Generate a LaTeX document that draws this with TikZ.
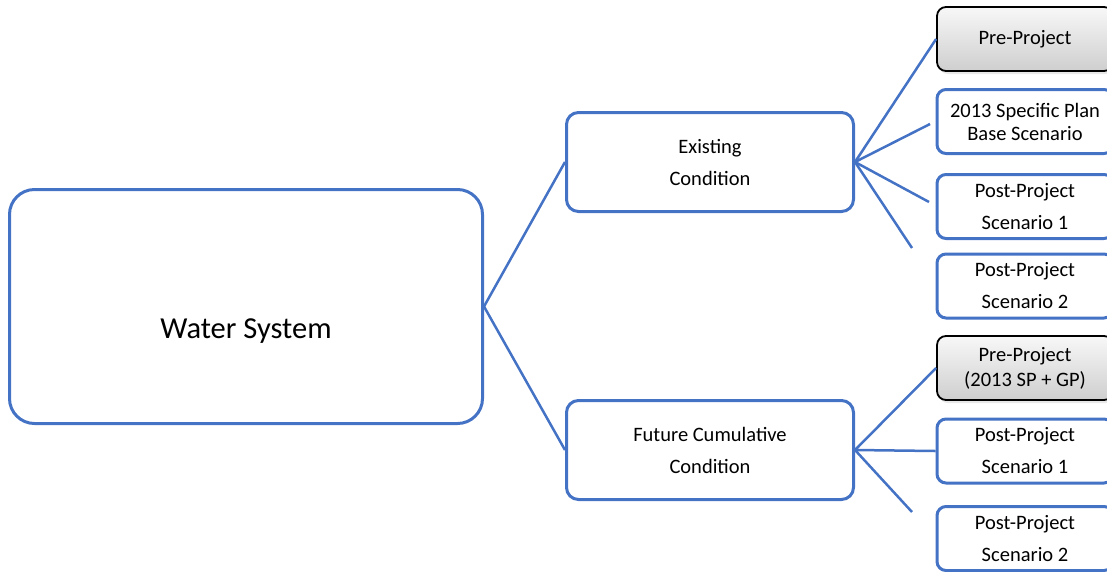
\documentclass[tikz,border=0pt]{standalone}
\usepackage{fontspec}
\setmainfont{Carlito}
\usetikzlibrary{shadows}
\definecolor{wblue}{HTML}{4472C4}
\tikzset{
  rootbox/.style={draw=wblue, line width=3pt, rounded corners=25pt,
    minimum width=473pt, minimum height=234pt},
  midbox/.style={draw=wblue, line width=3pt, rounded corners=12pt,
    minimum width=287pt, minimum height=99pt, align=center,
    font=\fontsize{20.5}{23}\selectfont},
  leafbox/.style={draw=wblue, line width=3pt, rounded corners=9pt,
    minimum width=176pt, minimum height=64pt, align=center,
    font=\fontsize{20.5}{23}\selectfont},
  prebox/.style={leafbox, draw=black, line width=1.8pt,
    top color=gray!6, bottom color=gray!38,
    drop shadow={shadow xshift=2pt, shadow yshift=-3pt, fill=black!18}},
  link/.style={draw=wblue, line width=2.5pt}
}
\begin{document}
\begin{tikzpicture}[x=1pt,y=-1pt]
  \useasboundingbox (0,0) rectangle (1107,571);
  \clip (0,0) rectangle (1107,571);
  % root and the two conditions
  \node[rootbox] (water) at (246,306.5) {};
  \node[font=\fontsize{30.5}{34}\selectfont] (watertxt) at (246,331) {Water System};
  \node[midbox] (exist) at (710,162) {Existing\\[9pt]Condition};
  \node[midbox] (future) at (710,450) {Future Cumulative\\[9pt]Condition};
  % scenarios, existing condition
  \node[prebox] (pre1) at (1025,39) {Pre-Project};
  \node[leafbox] (base) at (1025,121.5) {2013 Specific Plan\\[0pt]Base Scenario};
  \node[leafbox] (post11) at (1025,206.5) {Post-Project\\[9pt]Scenario 1};
  \node[leafbox] (post12) at (1025,286) {Post-Project\\[9pt]Scenario 2};
  % scenarios, future condition
  \node[prebox] (pre2) at (1025,368) {Pre-Project\\[2pt](2013 SP + GP)};
  \node[leafbox] (post21) at (1025,451) {Post-Project\\[9pt]Scenario 1};
  \node[leafbox] (post22) at (1025,538.5) {Post-Project\\[9pt]Scenario 2};
  % free ends of the short connectors
  \coordinate (e2) at (930,124);
  \coordinate (e3) at (929,202);
  \coordinate (e4) at (912,248);
  \coordinate (f3) at (912,512);
  \draw[link] (water.east) -- (exist.west);
  \draw[link] (water.east) -- (future.west);
  \draw[link] (exist.east) -- (pre1.west);
  \foreach \e in {e2,e3,e4}
    \draw[link] (exist.east) -- (\e);
  \draw[link] (future.east) -- (pre2.west);
  \draw[link] (future.east) -- (post21.west);
  \draw[link] (future.east) -- (f3);
\end{tikzpicture}
\end{document}
